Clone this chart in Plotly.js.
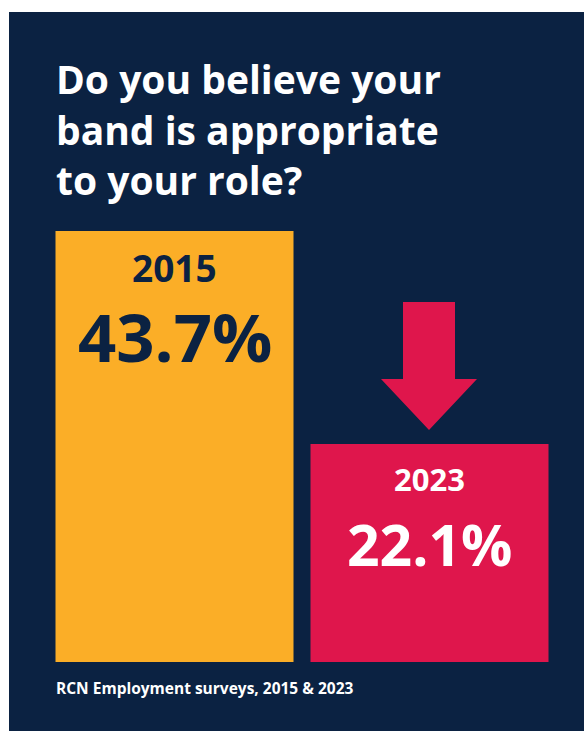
<!DOCTYPE html>
<html>
<head>
<meta charset="utf-8">
<script src="https://cdn.plot.ly/plotly-3.0.1.min.js"></script>
<style>
  html, body { margin: 0; padding: 0; background: #ffffff; width: 584px; height: 731px; overflow: hidden; }
  #chart { position: absolute; left: 9px; top: 12px; width: 575px; height: 719px; }
</style>
</head>
<body>
<div id="chart"></div>
<script>
// ---- data ----
const years = ['2015', '2023'];
const values = [43.7, 22.1];
const valueLabels = ['43.7%', '22.1%'];
const barColors = ['#FBAE27', '#DF164C'];
const labelColors = ['#0B2242', '#FFFFFF'];
const titleLines = ['Do you believe your', 'band is appropriate', 'to your role?'];
const sourceText = 'RCN Employment surveys, 2015 & 2023';

// ---- layout constants ----
const NAVY = '#0B2242';
const FONT = 'Open Sans, sans-serif';
const W = 575, H = 719;
const M = { l: 38, r: 27, t: 157, b: 69 };
const PW = W - M.l - M.r, PH = H - M.t - M.b;
const YMAX = 50;
const OFFX = 9, OFFY = 12; // div offset on page

// page pixel -> data / paper
const pxToY = p => YMAX * (1 - (p - OFFY - M.t) / PH);
const pxToX = p => -0.5 + 2 * (p - OFFX - M.l) / PW;
const pxToPaperX = p => (p - OFFX - M.l) / PW;
const pxToPaperY = p => 1 - (p - OFFY - M.t) / PH;

const trace = {
  type: 'bar',
  x: years,
  y: values,
  marker: { color: barColors, line: { width: 0 } },
  hoverinfo: 'skip',
  showlegend: false
};

const annotations = [];
// bar labels (offset in px below bar top)
const yearSizes = [37, 31];
const pctSizes = [67, 57];
const yearOff = [36, 35];
const pctOff = [105, 100];
years.forEach((yr, i) => {
  annotations.push({
    text: '<b>' + yr + '</b>', xref: 'x', yref: 'y', x: i, y: values[i],
    yshift: -yearOff[i], yanchor: 'middle', xanchor: 'center', showarrow: false,
    font: { family: FONT, size: yearSizes[i], color: labelColors[i], weight: 800 }
  });
  annotations.push({
    text: '<b>' + valueLabels[i] + '</b>', xref: 'x', yref: 'y', x: i, y: values[i],
    yshift: -pctOff[i], yanchor: 'middle', xanchor: 'center', showarrow: false,
    font: { family: FONT, size: pctSizes[i], color: labelColors[i], weight: 800 }
  });
});
// source
annotations.push({
  text: '<b>' + sourceText + '</b>', xref: 'paper', yref: 'paper',
  x: pxToPaperX(54), y: pxToPaperY(688), xanchor: 'left', yanchor: 'middle',
  showarrow: false, font: { family: FONT, size: 15.5, color: '#FFFFFF', weight: 700 }
});

// down arrow above the 2023 bar
const ax = [403, 455, 455, 477, 429, 381, 403].map(pxToX);
const ay = [302, 302, 379, 379, 430, 379, 379].map(pxToY);
let path = 'M ' + ax[0] + ',' + ay[0];
for (let i = 1; i < ax.length; i++) path += ' L ' + ax[i] + ',' + ay[i];
path += ' Z';

const layout = {
  width: W, height: H,
  margin: M,
  paper_bgcolor: NAVY, plot_bgcolor: NAVY,
  bargap: 1 - 238 / 255,
  title: {
    text: '<b>' + titleLines.join('<br>') + '</b>',
    xref: 'container', yref: 'container',
    x: (56 - OFFX) / W, xanchor: 'left',
    y: 1 - (94 - OFFY) / H, yanchor: 'top',
    font: { family: FONT, size: 39, color: '#FFFFFF', weight: 800 }
  },
  xaxis: { type: 'category', range: [-0.5, 1.5], showticklabels: false, showgrid: false, zeroline: false, showline: false, fixedrange: true },
  yaxis: { range: [0, YMAX], visible: false, showgrid: false, zeroline: false, fixedrange: true },
  annotations: annotations,
  shapes: [{ type: 'path', xref: 'x', yref: 'y', path: path, fillcolor: '#DF164C', line: { width: 0 }, layer: 'above' }],
  showlegend: false
};

Plotly.newPlot('chart', [trace], layout, { displayModeBar: false, staticPlot: true });
</script>
</body>
</html>
